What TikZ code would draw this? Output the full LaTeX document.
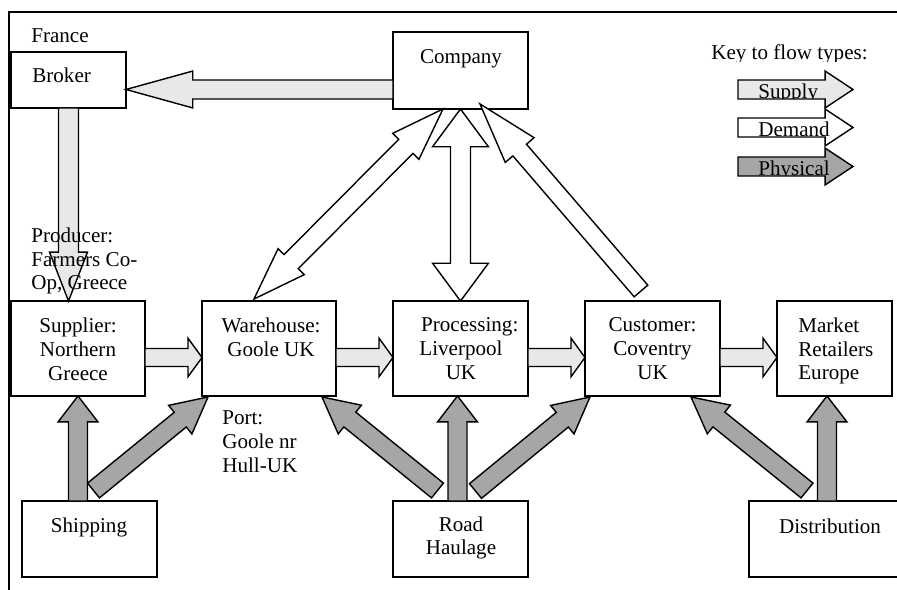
\documentclass[tikz,border=0pt]{standalone}
\usepackage{fontspec}
\setmainfont{Liberation Serif}
\usepackage{tikz}
\usetikzlibrary{calc}

\definecolor{supplygray}{HTML}{E8E8E8}
\definecolor{physgray}{HTML}{A6A6A6}

\tikzset{
  box/.style={draw, line width=0.9pt, inner sep=0pt, outer sep=0pt},
  lbl/.style={inner sep=0pt, font=\fontsize{12}{13.6}\selectfont, align=center},
  supply/.style={draw, fill=supplygray, line width=0.8pt},
  demand/.style={draw, fill=white, line width=0.8pt},
  physical/.style={draw, fill=physgray, line width=0.8pt},
}

% block arrow: style, tail, tip, body half width, head half width, head length
\newcommand{\flowarrow}[6]{%
  \coordinate (fa-t) at (#2);
  \coordinate (fa-p) at (#3);
  \coordinate (fa-b) at ($(fa-p)!#6!(fa-t)$);
  \draw[#1] ($(fa-t)!#4!90:(fa-p)$) -- ($(fa-b)!#4!90:(fa-p)$) -- ($(fa-b)!#5!90:(fa-p)$)
    -- (fa-p) -- ($(fa-b)!#5!-90:(fa-p)$) -- ($(fa-b)!#4!-90:(fa-p)$)
    -- ($(fa-t)!#4!-90:(fa-p)$) -- cycle;
}
% same, with a head at both ends
\newcommand{\flowboth}[6]{%
  \coordinate (fa-t) at (#2);
  \coordinate (fa-p) at (#3);
  \coordinate (fa-a) at ($(fa-t)!#6!(fa-p)$);
  \coordinate (fa-b) at ($(fa-p)!#6!(fa-t)$);
  \draw[#1] (fa-t) -- ($(fa-a)!#5!90:(fa-p)$) -- ($(fa-a)!#4!90:(fa-p)$) -- ($(fa-b)!#4!90:(fa-p)$)
    -- ($(fa-b)!#5!90:(fa-p)$) -- (fa-p) -- ($(fa-b)!#5!-90:(fa-p)$) -- ($(fa-b)!#4!-90:(fa-p)$)
    -- ($(fa-a)!#4!-90:(fa-p)$) -- ($(fa-a)!#5!-90:(fa-p)$) -- cycle;
}

\begin{document}
\begin{tikzpicture}[x=0.02cm, y=-0.02cm]
  \useasboundingbox (0,0) rectangle (897,590);
  \draw[line width=1.1pt] (9,590) -- (9,12) -- (897,12);

  % boxes
  \node[box, minimum width=2.3cm, minimum height=1.12cm] (broker) at (68.5,80) {};
  \node[box, minimum width=2.7cm, minimum height=1.54cm] (company) at (460.5,70.5) {};
  \node[box, minimum width=2.68cm, minimum height=1.9cm] (supplier) at (78,348.5) {};
  \node[box, minimum width=2.68cm, minimum height=1.9cm] (warehouse) at (269,348.5) {};
  \node[box, minimum width=2.7cm, minimum height=1.9cm] (processing) at (460.5,348.5) {};
  \node[box, minimum width=2.7cm, minimum height=1.9cm] (customer) at (652.5,348.5) {};
  \node[box, minimum width=2.3cm, minimum height=1.9cm] (market) at (834.5,348.5) {};
  \node[box, minimum width=2.7cm, minimum height=1.52cm] (shipping) at (89.5,539) {};
  \node[box, minimum width=2.7cm, minimum height=1.52cm] (haulage) at (460.5,539) {};
  \node[box, minimum width=3.8cm, minimum height=1.52cm] (distrib) at (844,539) {};

  % supply flows
  \flowarrow{supply}{$(company.west)+(0,19)$}{$(broker.east)+(0,9.5)$}{5.4pt}{10.5pt}{38pt}
  \flowarrow{supply}{broker.south}{broker.south |- supplier.north}{5.7pt}{10.8pt}{27.8pt}
  \flowarrow{supply}{$(supplier.east)+(0,9)$}{$(warehouse.west)+(0,9)$}{5.1pt}{11pt}{8pt}
  \flowarrow{supply}{$(warehouse.east)+(0,9)$}{$(processing.west)+(0,9)$}{5.1pt}{11pt}{8pt}
  \flowarrow{supply}{$(processing.east)+(0,9)$}{$(customer.west)+(0,9)$}{5.1pt}{11pt}{8pt}
  \flowarrow{supply}{$(customer.east)+(0,9)$}{$(market.west)+(0,9)$}{5.1pt}{11pt}{8pt}

  % demand flows
  \flowboth{demand}{$(warehouse.north)+(-15,-2)$}{$(company.south)+(-17.5,0)$}{5.7pt}{10.5pt}{30pt}
  \flowboth{demand}{company.south}{processing.north}{5.7pt}{15.9pt}{21.5pt}
  \flowarrow{demand}{$(customer.north)+(-11.5,-10)$}{$(company.south)+(19.5,-5)$}{5.1pt}{10.8pt}{34.6pt}

  % physical flows
  \flowarrow{physical}{supplier.south |- shipping.north}{supplier.south}{5.4pt}{11.3pt}{14.7pt}
  \flowarrow{physical}{$(shipping.north)+(4,-10.5)$}{$(warehouse.south west)+(6,1)$}{5.4pt}{10.5pt}{20.4pt}
  \flowarrow{physical}{$(haulage.north)+(-23,-10.5)$}{$(warehouse.south east)+(-14,1)$}{5.4pt}{10.5pt}{20.4pt}
  \flowarrow{physical}{$(haulage.north)+(-3,0)$}{$(processing.south)+(-3,0)$}{5.4pt}{11.3pt}{14.7pt}
  \flowarrow{physical}{$(haulage.north)+(15,-10)$}{$(customer.south west)+(5,1)$}{5.4pt}{10.5pt}{20.4pt}
  \flowarrow{physical}{$(distrib.north west)+(58,-10.5)$}{$(customer.south east)+(-29,1)$}{5.4pt}{10.5pt}{20.4pt}
  \flowarrow{physical}{$(distrib.north west)+(78,0)$}{$(market.south)+(-7.5,0)$}{5.4pt}{11.3pt}{14.7pt}

  % key
  \begin{scope}
    \clip (700,30) rectangle (897,62);
    \node[lbl, anchor=base] (keytitle) at (789.5,60) {Key to flow types:};
  \end{scope}
  \coordinate (keyS) at (738,89.5);  \coordinate (keySe) at (853,89.5);
  \coordinate (keyD) at (738,127.5); \coordinate (keyDe) at (853,127.5);
  \coordinate (keyP) at (738,166.5); \coordinate (keyPe) at (853,166.5);
  \flowarrow{supply}{keyS}{keySe}{5.4pt}{10.5pt}{15.9pt}
  \begin{scope}
    \clip (738,70) rectangle (860,99);
    \node[lbl, anchor=base west] (keysupply) at (758,99) {Supply};
  \end{scope}
  \flowarrow{demand}{keyD}{keyDe}{5.4pt}{10.5pt}{15.9pt}
  \begin{scope}
    \clip (738,108) rectangle (860,137);
    \node[lbl, anchor=base west] (keydemand) at (758,137) {Demand};
  \end{scope}
  \flowarrow{physical}{keyP}{keyPe}{5.4pt}{10.5pt}{15.9pt}
  \begin{scope}
    \clip (738,147) rectangle (860,176);
    \node[lbl, anchor=base west] (keyphysical) at (758,176) {Physical};
  \end{scope}

  % texts
  \node[lbl, anchor=west] (france) at (31,36) {France};
  \node[lbl, anchor=west] (brokertxt) at (32,75) {Broker};
  \node[lbl] (companytxt) at (461,59) {Company};
  \node[lbl, anchor=west, align=left] (producer) at (31,261) {Producer:\\Farmers Co-\\Op, Greece};
  \node[lbl] (suppliertxt) at (78,349) {Supplier:\\Northern\\Greece};
  \node[lbl] (warehousetxt) at (271,337) {Warehouse:\\Goole UK};
  \node[lbl] (processingtxt) at (461,349) {\hspace*{10pt}Processing:\\Liverpool\\UK};
  \node[lbl] (customertxt) at (652.5,349) {Customer:\\Coventry\\UK};
  \node[lbl, anchor=west, align=left] (markettxt) at (798,351) {Market\\Retailers\\Europe};
  \node[lbl, anchor=west, align=left] (port) at (222,442) {Port:\\Goole nr\\Hull-UK};
  \node[lbl] (shippingtxt) at (89,527) {Shipping};
  \node[lbl] (haulagetxt) at (461,538) {Road\\Haulage};
  \node[lbl] (distribtxt) at (830,526) {Distribution};
\end{tikzpicture}
\end{document}
